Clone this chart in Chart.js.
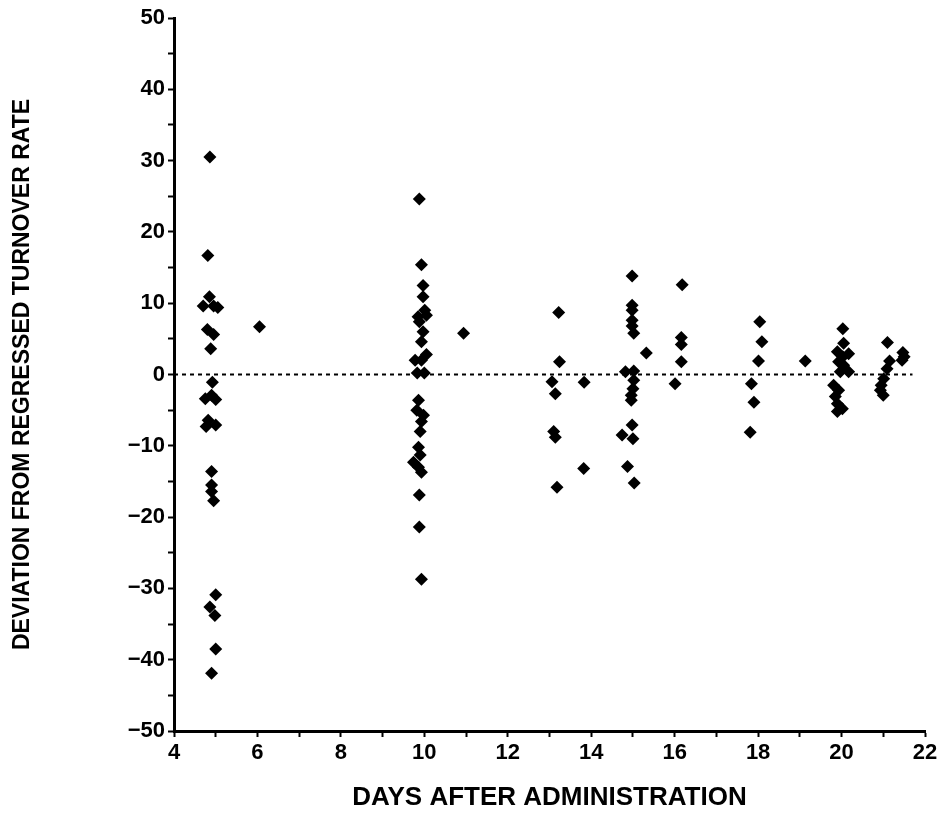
<!DOCTYPE html>
<html>
<head>
<meta charset="utf-8">
<script src="https://cdn.jsdelivr.net/npm/chart.js@4"></script>
<style>
  html, body { margin: 0; padding: 0; background: #fff; }
  #wrap { width: 941px; height: 831px; position: relative; }
</style>
</head>
<body>
<div id="wrap"><canvas id="turnoverChart"></canvas></div>
<script>
// values (days, deviation)
var days = [
  4.86, 4.81, 4.85, 4.7, 4.95, 5.05, 4.8, 4.95, 4.88, 4.92, 4.75, 4.9, 5.0, 4.82, 4.77, 5.0,
  4.9, 4.9, 4.9, 4.95, 5.0, 4.86, 4.98, 5.0, 4.9, 6.05,
  9.88, 9.93, 9.97, 9.97, 10.01, 9.85, 10.05, 9.88, 9.97, 9.93, 10.05, 9.78, 9.93, 9.83, 10.0,
  9.86, 9.82, 9.98, 9.93, 9.9, 9.86, 9.9, 9.74, 9.86, 9.93, 9.88, 9.88, 9.93, 10.94,
  13.22, 13.24, 13.06, 13.14, 13.1, 13.14, 13.18, 13.83, 13.82,
  14.98, 14.98, 14.98, 14.98, 14.98, 15.02, 15.32, 14.82, 15.02, 15.02, 15.0, 14.96, 14.96,
  14.98, 14.74, 15.0, 14.87, 15.03,
  16.18, 16.16, 16.16, 16.16, 16.01,
  18.04, 18.09, 18.01, 17.84, 17.9, 17.81, 19.13,
  20.03, 20.05, 19.9, 20.17, 20.03, 19.93, 20.05, 19.97, 20.17, 19.81, 19.93, 19.85, 19.9, 20.02, 19.9,
  21.1, 21.15, 21.09, 21.01, 20.95, 20.93, 21.0, 21.47, 21.5, 21.45
];
var deviations = [
  30.5, 16.7, 10.9, 9.6, 9.6, 9.4, 6.3, 5.6, 3.6, -1.1, -3.4, -2.9, -3.5, -6.4, -7.3, -7.1,
  -13.6, -15.5, -16.4, -17.7, -30.9, -32.6, -33.8, -38.5, -41.9, 6.7,
  24.6, 15.4, 12.5, 10.9, 9.0, 8.1, 8.3, 7.4, 6.0, 4.6, 2.8, 2.0, 2.0, 0.2, 0.2,
  -3.6, -5.0, -5.7, -6.6, -8.0, -10.2, -11.3, -12.3, -13.0, -13.7, -16.9, -21.4, -28.7, 5.8,
  8.7, 1.8, -1.0, -2.7, -8.0, -8.8, -15.8, -1.1, -13.2,
  13.8, 9.7, 9.0, 7.6, 6.8, 5.8, 3.0, 0.4, 0.5, -0.8, -2.0, -2.9, -3.6,
  -7.1, -8.5, -9.0, -12.9, -15.2,
  12.6, 5.2, 4.2, 1.8, -1.3,
  7.4, 4.6, 1.9, -1.3, -3.9, -8.1, 1.9,
  6.4, 4.4, 3.2, 2.9, 2.5, 1.8, 1.3, 0.4, 0.4, -1.5, -2.2, -3.1, -4.1, -4.8, -5.2,
  4.5, 1.9, 0.8, -0.6, -1.5, -2.2, -2.9, 3.1, 2.5, 2.0
];
var zeroLineDays = [4, 21.7];
var xLabelTicks = [4, 6, 8, 10, 12, 14, 16, 18, 20, 22];
var yLabelTicks = [-50, -40, -30, -20, -10, 0, 10, 20, 30, 40, 50];

var points = days.map(function (d, i) { return { x: d, y: deviations[i] }; });
var zeroLine = zeroLineDays.map(function (d) { return { x: d, y: 0 }; });

var tickFont = { family: 'Liberation Sans', size: 22, weight: 'bold' };

var ctx = document.getElementById('turnoverChart').getContext('2d');
var turnoverChart = new Chart(ctx, {
    type: 'scatter',
    data: {
        datasets: [{
            data: zeroLine,
            showLine: true,
            borderColor: '#000',
            borderWidth: 2,
            borderDash: [4, 4],
            pointRadius: 0
        }, {
            data: points,
            pointStyle: 'rectRot',
            pointRadius: 6.5,
            backgroundColor: '#000',
            borderColor: '#000',
            borderWidth: 0
        }]
    },
    options: {
        responsive: true,
        maintainAspectRatio: false,
        animation: false,
        layout: { padding: { left: 0, top: 18, right: 16, bottom: 0 } },
        plugins: {
            legend: { display: false },
            tooltip: { enabled: false }
        },
        scales: {
            x: {
                type: 'linear',
                min: 4,
                max: 22,
                border: { display: true, color: '#000', width: 3 },
                grid: { drawOnChartArea: false, drawTicks: true, tickLength: 6, tickWidth: 2, color: '#000' },
                ticks: {
                    stepSize: 1,
                    color: '#000',
                    font: tickFont,
                    padding: 3,
                    maxRotation: 0,
                    autoSkip: false,
                    callback: function (v) { return xLabelTicks.indexOf(v) >= 0 ? String(v) : ''; }
                },
                title: {
                    display: true,
                    text: 'DAYS AFTER ADMINISTRATION',
                    color: '#000',
                    font: { family: 'Liberation Sans', size: 26, weight: 'bold' },
                    padding: { top: 0, bottom: 18 }
                },
                afterFit: function (scale) { scale.height = 100; }
            },
            y: {
                type: 'linear',
                min: -50,
                max: 50,
                border: { display: true, color: '#000', width: 3 },
                grid: { drawOnChartArea: false, drawTicks: true, tickLength: 6, tickWidth: 2, color: '#000' },
                ticks: {
                    stepSize: 5,
                    color: '#000',
                    font: tickFont,
                    padding: 3,
                    autoSkip: false,
                    callback: function (v) {
                        if (yLabelTicks.indexOf(v) < 0) return '';
                        return v < 0 ? '\u2212' + Math.abs(v) : String(v);
                    }
                },
                title: {
                    display: true,
                    text: 'DEVIATION FROM REGRESSED TURNOVER RATE',
                    color: '#000',
                    font: { family: 'Liberation Sans', size: 23, weight: 'bold' },
                    padding: { top: 9, bottom: 0 }
                },
                afterFit: function (scale) { scale.width = 174; }
            }
        }
    }
});
</script>
</body>
</html>
